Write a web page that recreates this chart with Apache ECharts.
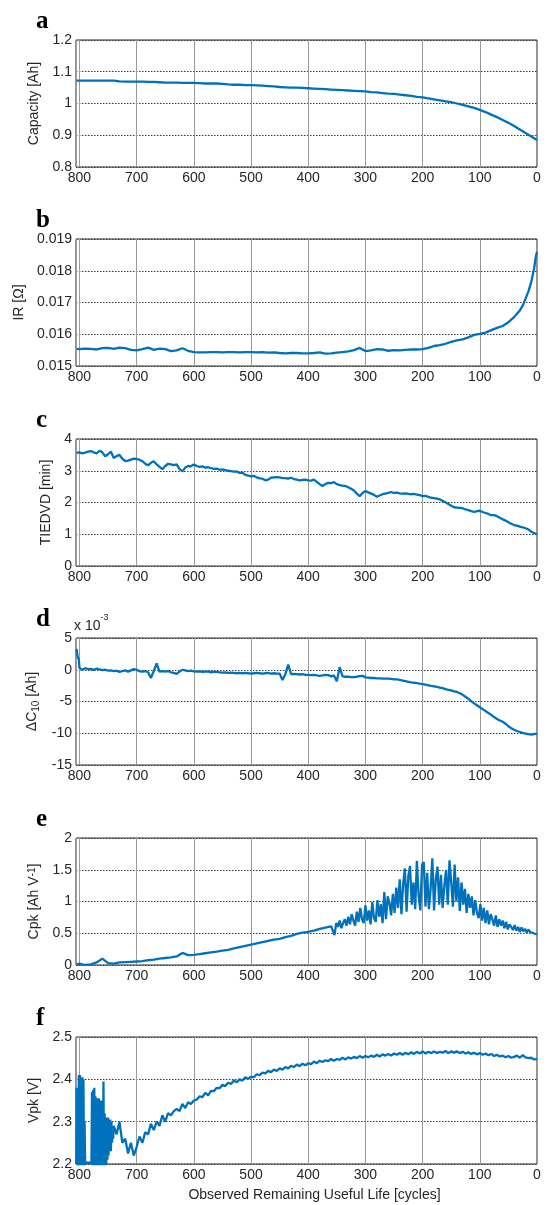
<!DOCTYPE html>
<html><head><meta charset="utf-8">
<script src="https://cdn.jsdelivr.net/npm/echarts@6/dist/echarts.min.js"></script>
<style>html,body{margin:0;padding:0;background:#fff}#c{width:548px;height:1205px}</style>
</head><body><div id="c"></div>
<script>
function range(start, end, step) { var r = []; for (var v = start; v >= end; v -= step) r.push(v); return r; }

// x tick labels (cycles)
var xTicks = [800, 700, 600, 500, 400, 300, 200, 100, 0];
var panelLetters = ['a', 'b', 'c', 'd', 'e', 'f'];

// a: Capacity [Ah], 805 then 800..0 step 10
var capCycles = [805].concat(range(800, 0, 10));
var capValues = [1.072,
 1.072,1.072,1.072,1.072,1.072,1.072,1.072,1.070,1.069,1.069,
 1.069,1.069,1.068,1.068,1.067,1.066,1.066,1.066,1.065,1.065,
 1.065,1.064,1.063,1.063,1.063,1.062,1.060,1.059,1.059,1.058,
 1.058,1.057,1.056,1.055,1.054,1.052,1.051,1.050,1.050,1.049,
 1.048,1.047,1.046,1.045,1.044,1.043,1.042,1.041,1.040,1.039,
 1.038,1.036,1.035,1.033,1.031,1.030,1.028,1.026,1.024,1.021,
 1.019,1.016,1.013,1.010,1.007,1.004,1.000,0.996,0.991,0.986,
 0.980,0.973,0.965,0.957,0.948,0.939,0.929,0.918,0.907,0.896,
 0.885];

// b: IR [Ohm]
var irCycles = [805].concat(range(800, 30, 10), [25, 20, 15, 10, 5, 2, 0]);
var irValues = [0.01554,
 0.01553,0.01555,0.01554,0.01552,0.01556,0.01557,0.01554,0.01558,0.01556,0.01551,
 0.01549,0.01553,0.01558,0.01551,0.01555,0.01553,0.01547,0.01549,0.01556,0.01548,
 0.01544,0.01543,0.01543,0.01544,0.01544,0.01543,0.01544,0.01544,0.01543,0.01544,
 0.01544,0.01543,0.01544,0.01542,0.01543,0.01541,0.01540,0.01541,0.01541,0.01540,
 0.01540,0.01541,0.01543,0.01539,0.01540,0.01542,0.01544,0.01546,0.01550,0.01557,
 0.01547,0.01549,0.01553,0.01552,0.01548,0.01550,0.01549,0.01551,0.01552,0.01552,
 0.01553,0.01557,0.01563,0.01566,0.01570,0.01576,0.01581,0.01584,0.01590,0.01598,
 0.01601,0.01605,0.01613,0.01620,0.01626,0.01638,0.01654,0.01675,
 0.01690,0.01712,0.01735,0.01765,0.01808,0.01845,0.01860];

// c: TIEDVD [min], 805 then 800..0 step 5
var tiCycles = [805].concat(range(800, 0, 5));
var tiValues = [3.56,
 3.58,3.55,3.57,3.60,3.62,3.58,3.55,3.63,3.58,3.45,
 3.52,3.60,3.40,3.46,3.50,3.38,3.30,3.32,3.35,3.38,
 3.37,3.35,3.30,3.22,3.17,3.25,3.30,3.20,3.12,3.05,
 3.15,3.22,3.20,3.18,3.20,3.05,2.98,3.10,3.15,3.14,
 3.20,3.15,3.12,3.14,3.10,3.11,3.08,3.06,3.07,3.03,
 3.04,3.02,3.00,2.99,2.97,2.98,2.93,2.94,2.87,2.85,
 2.82,2.84,2.79,2.76,2.75,2.70,2.72,2.78,2.79,2.80,
 2.79,2.77,2.77,2.75,2.78,2.74,2.72,2.70,2.71,2.72,
 2.70,2.69,2.72,2.65,2.58,2.52,2.58,2.62,2.61,2.64,
 2.58,2.55,2.53,2.52,2.48,2.43,2.38,2.28,2.20,2.30,
 2.36,2.32,2.28,2.24,2.18,2.22,2.26,2.28,2.30,2.33,
 2.30,2.31,2.29,2.28,2.29,2.27,2.26,2.27,2.25,2.23,
 2.20,2.21,2.18,2.15,2.14,2.12,2.10,2.05,2.01,1.95,
 1.90,1.85,1.84,1.83,1.82,1.78,1.76,1.73,1.70,1.73,
 1.74,1.70,1.67,1.64,1.60,1.60,1.57,1.52,1.47,1.43,
 1.38,1.33,1.29,1.27,1.24,1.22,1.19,1.15,1.08,1.04,
 0.99];

// d: delta C10 [Ah] (x 10^-3)
var dcCycles = [805, 803, 801].concat(range(800, 0, 5));
var dcValues = [3.3, 2.0, 1.6,
 0.3,0.0,0.25,0.1,0.15,-0.05,0.2,0.05,-0.05,0.0,
 -0.15,-0.1,-0.2,-0.15,-0.35,-0.2,-0.1,-0.3,-0.1,0.1,
 0.0,-0.25,-0.3,-0.2,-0.4,-1.3,-0.2,1.0,-0.3,-0.2,
 -0.3,-0.2,-0.4,-0.5,-0.65,-0.3,0.0,-0.1,-0.2,-0.15,
 -0.25,-0.3,-0.25,-0.35,-0.3,-0.25,-0.4,-0.3,-0.35,-0.4,
 -0.45,-0.4,-0.5,-0.45,-0.5,-0.55,-0.5,-0.55,-0.5,-0.55,
 -0.6,-0.55,-0.5,-0.55,-0.6,-0.55,-0.5,-0.6,-0.55,-0.6,
 -0.6,-1.6,-0.7,0.8,-0.7,-0.65,-0.7,-0.75,-0.7,-0.8,
 -0.8,-0.85,-0.8,-0.9,-0.95,-0.9,-0.8,-0.85,-1.05,-0.9,
 -1.8,0.4,-1.05,-1.1,-1.1,-1.15,-1.15,-1.1,-1.0,-0.95,
 -1.2,-1.25,-1.3,-1.3,-1.35,-1.35,-1.4,-1.4,-1.4,-1.45,
 -1.5,-1.5,-1.6,-1.7,-1.8,-1.9,-2.0,-2.05,-2.1,-2.2,
 -2.25,-2.35,-2.45,-2.55,-2.6,-2.7,-2.8,-2.9,-3.05,-3.15,
 -3.25,-3.4,-3.5,-3.7,-3.95,-4.25,-4.6,-4.95,-5.3,-5.6,
 -5.9,-6.2,-6.5,-6.8,-7.1,-7.45,-7.75,-8.0,-8.2,-8.5,
 -8.9,-9.2,-9.45,-9.65,-9.8,-9.95,-10.05,-10.15,-10.2,-10.15,
 -10.05];

// e: Cpk [Ah V^-1]
var cpkCycles = [805].concat(range(800, 360, 10), range(357, 0, 3));
var cpkValues = [0.01,
 0.02,0.0,0.01,0.04,0.10,0.03,0.02,0.04,0.045,0.05,
 0.055,0.06,0.075,0.085,0.10,0.11,0.12,0.135,0.19,0.155,
 0.16,0.17,0.185,0.2,0.21,0.225,0.24,0.26,0.28,0.30,
 0.32,0.34,0.36,0.38,0.40,0.41,0.44,0.46,0.49,0.51,
 0.52,0.54,0.57,0.59,0.61,
 0.62,0.47,0.66,0.60,0.70,0.58,0.66,0.72,0.62,0.76,
 0.64,0.80,0.70,0.62,0.84,0.68,0.90,0.72,0.66,0.94,
 0.70,0.86,0.64,0.99,0.74,0.68,1.02,0.76,0.96,0.66,
 1.15,0.72,1.08,0.98,0.78,1.12,0.82,1.22,0.90,1.35,
 0.80,1.28,1.52,0.84,1.40,1.56,0.95,1.30,0.88,1.64,
 1.10,0.86,1.58,1.62,0.92,1.45,0.88,1.20,1.68,0.86,
 1.35,1.55,0.95,1.42,0.90,1.25,1.50,0.95,1.65,1.30,
 0.92,1.58,1.00,1.38,0.85,1.30,0.95,1.20,0.82,1.12,
 0.90,1.08,0.78,1.02,0.82,0.74,0.96,0.70,0.90,0.66,
 0.86,0.64,0.80,0.72,0.62,0.78,0.60,0.72,0.62,0.70,
 0.58,0.68,0.56,0.64,0.60,0.55,0.63,0.54,0.60,0.52,
 0.59,0.53,0.57,0.51,0.56,0.52,0.54,0.50,0.52,0.48];

// f: Vpk [V]
var vpkCycles = [805.5,805,804,803,802,801,800,799,798,797,796,795,794,793,792,791,790,779,778,777,776,775,774,773,772,771,770,769,768,767,766,765,764,763,762,761,760,759,758,757,756,755,754,753,752,751,750,749,748,747,746,745,744,743,742,741]
  .concat(range(740, 0, 5));
var vpkValues = [2.20,2.38,2.19,2.38,2.19,2.41,2.19,2.41,2.19,2.40,2.19,2.405,2.19,2.40,2.19,2.30,2.203,2.203,2.37,2.19,2.375,2.19,2.38,2.19,2.36,2.19,2.355,2.19,2.35,2.19,2.355,2.19,2.34,2.19,2.35,2.19,2.33,2.19,2.395,2.19,2.32,2.19,2.31,2.20,2.30,2.21,2.31,2.22,2.29,2.24,2.305,2.23,2.30,2.25,2.29,2.26,
 2.29,2.27,2.30,2.25,2.26,2.225,2.25,2.22,2.24,2.265,
 2.25,2.275,2.27,2.295,2.28,2.30,2.29,2.315,2.30,2.32,
 2.315,2.325,2.33,2.325,2.342,2.332,2.346,2.342,2.35,2.352,
 2.36,2.358,2.368,2.362,2.373,2.372,2.38,2.379,2.387,2.384,
 2.392,2.389,2.397,2.393,2.40,2.397,2.405,2.401,2.406,2.405,
 2.412,2.41,2.416,2.414,2.42,2.417,2.423,2.42,2.426,2.423,
 2.429,2.426,2.432,2.429,2.435,2.431,2.437,2.433,2.438,2.436,
 2.442,2.438,2.444,2.441,2.445,2.443,2.448,2.444,2.448,2.446,
 2.451,2.447,2.452,2.449,2.453,2.45,2.455,2.451,2.455,2.452,
 2.456,2.453,2.458,2.454,2.459,2.456,2.46,2.456,2.461,2.458,
 2.462,2.458,2.463,2.459,2.464,2.46,2.465,2.461,2.466,2.461,
 2.465,2.462,2.466,2.462,2.465,2.463,2.467,2.462,2.466,2.463,
 2.466,2.462,2.465,2.461,2.464,2.46,2.463,2.459,2.462,2.458,
 2.461,2.457,2.46,2.455,2.458,2.454,2.456,2.452,2.455,2.451,
 2.453,2.456,2.451,2.457,2.452,2.45,2.451,2.447,2.448];

function pairs(xs, ys) { return xs.map(function (x, i) { return [x, ys[i]]; }); }

var FONT = 'Liberation Sans';
var TXT = '#262626';
var LINE = '#0072BD';
var tops = [40, 239, 439, 638, 838, 1037];
var H = 127;

var panels = [
  { data: pairs(capCycles, capValues), min: 0.8, max: 1.2, interval: 0.1, name: 'Capacity [Ah]', gap: 30 },
  { data: pairs(irCycles, irValues), min: 0.015, max: 0.019, interval: 0.001, name: 'IR [Ω]', gap: 45 },
  { data: pairs(tiCycles, tiValues), min: 0, max: 4, interval: 1, name: 'TIEDVD [min]', gap: 20 },
  { data: pairs(dcCycles, dcValues), min: -15, max: 5, interval: 5, name: '{t|ΔC}{s|10}{t| [Ah]}', gap: 35 },
  { data: pairs(cpkCycles, cpkValues), min: 0, max: 2, interval: 0.5, name: '{t|Cpk [Ah V}{p|-1}{t|]}', gap: 32 },
  { data: pairs(vpkCycles, vpkValues), min: 2.2, max: 2.5, interval: 0.1, name: 'Vpk [V]', gap: 31 }
];

var grid = [], xAxis = [], yAxis = [], series = [], graphic = [];
panels.forEach(function (p, i) {
  grid.push({ left: 76, right: 11, top: tops[i], height: H, show: true, borderColor: TXT, borderWidth: 1, backgroundColor: '#fff' });
  xAxis.push({
    gridIndex: i, type: 'value', inverse: true, min: 0, max: 806, interval: 100,
    axisLine: { show: false }, axisTick: { show: false },
    axisLabel: { fontFamily: FONT, fontSize: 14, color: TXT, margin: 4,
      formatter: function (v) { return xTicks.indexOf(v) >= 0 ? String(v) : ''; } },
    splitLine: { show: true, lineStyle: { color: '#9a9a9a', width: 1 } },
    name: i === 5 ? 'Observed Remaining Useful Life [cycles]' : '',
    nameLocation: 'middle', nameGap: 24,
    nameTextStyle: { fontFamily: FONT, fontSize: 14, color: TXT, padding: [0, 0, 0, 16] }
  });
  yAxis.push({
    gridIndex: i, type: 'value', min: p.min, max: p.max, interval: p.interval,
    axisLine: { show: false }, axisTick: { show: false },
    axisLabel: { fontFamily: FONT, fontSize: 14, color: TXT, margin: 4 },
    splitLine: { show: true, lineStyle: { color: '#3a3a3a', width: 1, type: [1.5, 1.5] } },
    name: p.name, nameLocation: 'middle', nameGap: p.gap,
    nameTextStyle: { fontFamily: FONT, fontSize: 14, color: TXT,
      rich: {
        t: { fontFamily: FONT, fontSize: 14, color: TXT, verticalAlign: 'top' },
        s: { fontFamily: FONT, fontSize: 10, color: TXT, padding: [6, 0, 0, 0], verticalAlign: 'bottom' },
        p: { fontFamily: FONT, fontSize: 10, color: TXT, padding: [0, 0, 6, 0], verticalAlign: 'top' }
      } }
  });
  series.push({
    type: 'line', xAxisIndex: i, yAxisIndex: i, data: p.data, showSymbol: false,
    clip: true, lineStyle: { color: LINE, width: 2.3 }, itemStyle: { color: LINE }, z: 3
  });
  graphic.push({
    type: 'text', left: 36, top: tops[i] - 31,
    style: { text: panelLetters[i], font: 'bold 25px "Liberation Serif"', fill: '#000' }
  });
});
graphic.push({
  type: 'text', left: 74, top: 613,
  style: { text: '{a|x 10}{b|-3}', rich: {
    a: { fontFamily: FONT, fontSize: 14, fill: TXT, color: TXT, padding: [6, 0, 0, 0], verticalAlign: 'bottom' },
    b: { fontFamily: FONT, fontSize: 9, fill: TXT, color: TXT, padding: [0, 0, 8, 0], verticalAlign: 'top' }
  } }
});

var chart = echarts.init(document.getElementById('c'), null, { renderer: 'canvas' });
chart.setOption({
  animation: false, backgroundColor: '#fff',
  grid: grid, xAxis: xAxis, yAxis: yAxis, series: series, graphic: graphic
});
</script></body></html>
